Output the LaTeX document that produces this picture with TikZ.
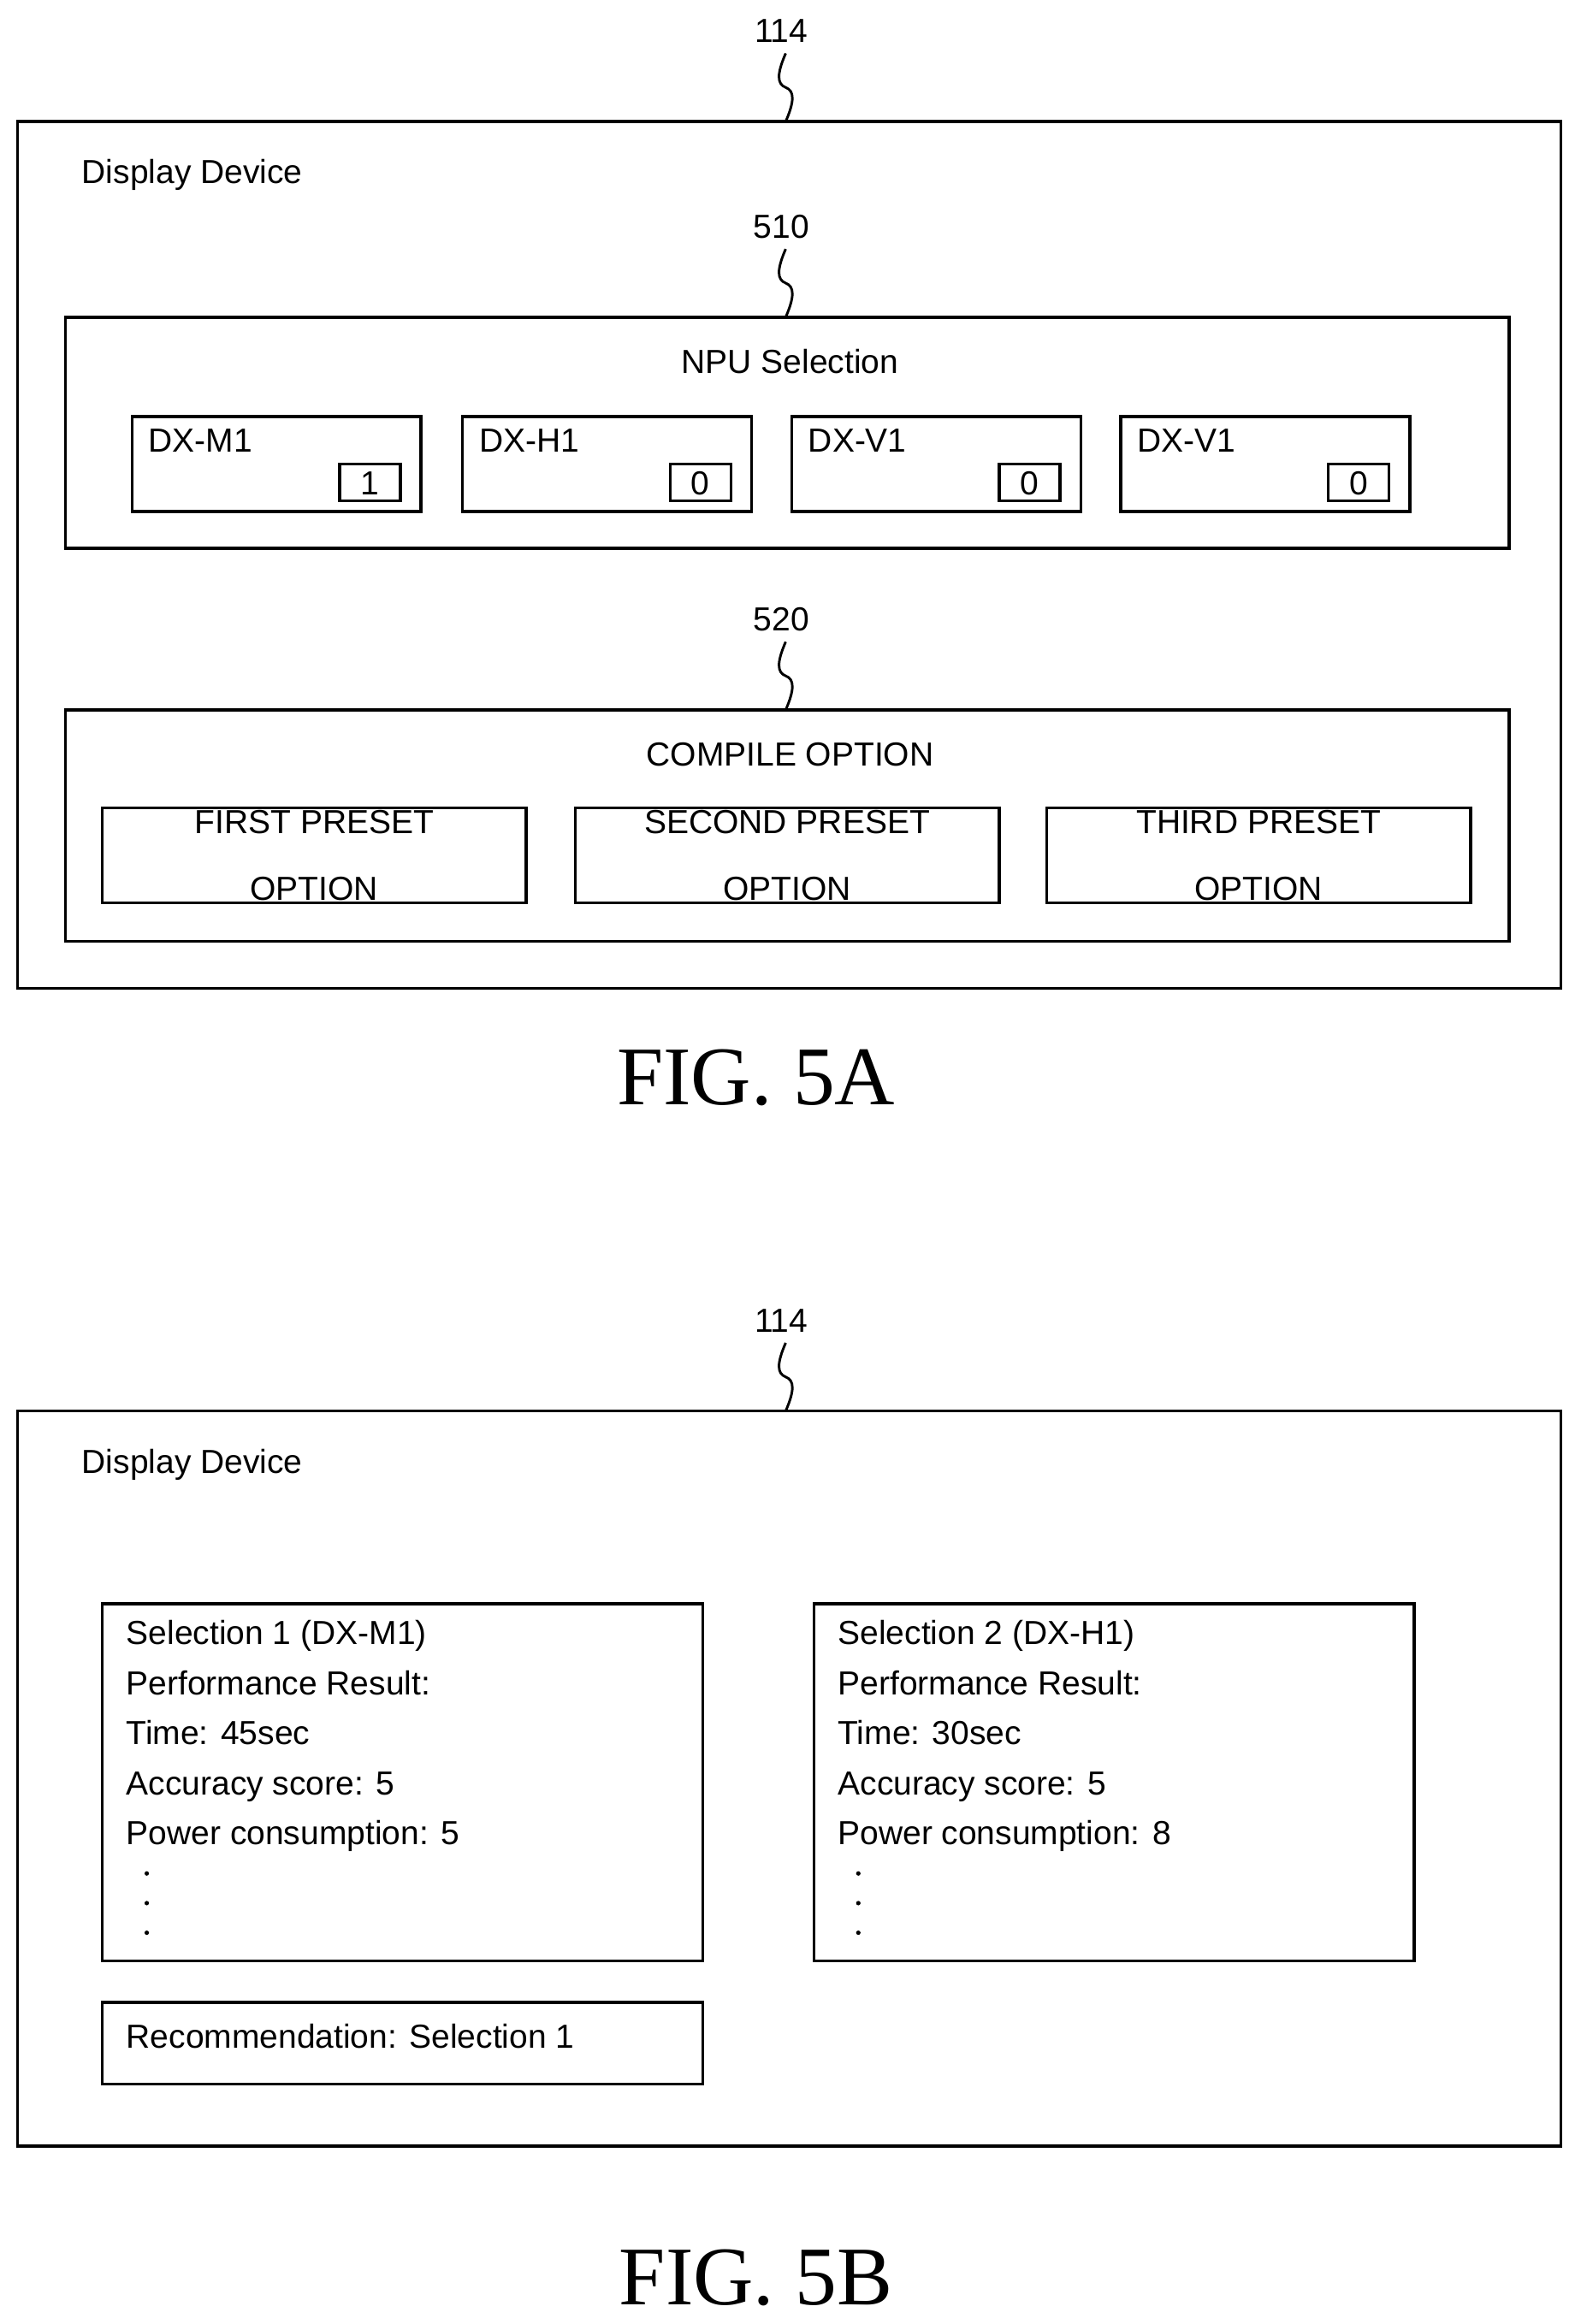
\documentclass[tikz,border=0pt]{standalone}
\usepackage{fontspec}
\setmainfont{Liberation Sans}
\newfontfamily\figfont{Liberation Serif}
\usetikzlibrary{positioning}
\tikzset{
  frame/.style={draw, thick, line width=1.4pt},
  lbl/.style={font=\fontsize{16}{19}\selectfont, inner sep=0pt},
  txt/.style={font=\fontsize{16}{24}\selectfont, inner sep=0pt, anchor=north west, align=left},
  figlbl/.style={font=\figfont\fontsize{40}{44}\selectfont, inner sep=0pt},
  squig/.style={line width=1.2pt}
}
\newcommand{\squiggle}[2]{% top y, bottom y at x=530
  \draw[squig] (530,#1) .. controls (524,{#1+(#2-#1)*0.3}) and (524,{#1+(#2-#1)*0.45}) .. (530,{(#1+#2)/2})
     .. controls (536,{#1+(#2-#1)*0.55}) and (536,{#1+(#2-#1)*0.7}) .. (530,#2);}
\begin{document}
\begin{tikzpicture}[x=0.025cm, y=-0.025cm]
  \useasboundingbox (0,0) rectangle (1066,1568);

  % Figura 5A
  \node[lbl] (refA) at (527,21) {114};
  \squiggle{36}{82}
  \draw[frame] (12,82) rectangle (1053,667);
  \node[lbl, anchor=west] (devA) at (55,118) {Display Device};

  % Seleccion de NPU
  \node[lbl] (ref510) at (527,153) {510};
  \squiggle{168}{214}
  \draw[frame] (44,214) rectangle (1018,370);
  \node[lbl] (npu) at (533,244) {NPU Selection};
  \foreach \x/\name/\v in {89/DX-M1/1, 312/DX-H1/0, 534/DX-V1/0, 756/DX-V1/0} {
      \draw[frame] (\x,281) rectangle (\x+195,345);
      \node[lbl, anchor=west] at (\x+11,297) {\name};
      \draw[frame] (\x+140,313) rectangle (\x+181,338);
      \node[lbl] at (\x+160.5,326) {\v};
  }

  % Opciones de compilacion
  \node[lbl] (ref520) at (527,418) {520};
  \squiggle{433}{479}
  \draw[frame] (44,479) rectangle (1018,635);
  \node[lbl] (comp) at (533,509) {COMPILE OPTION};
  \foreach \x/\name in {69/FIRST, 388/SECOND, 706/THIRD} {
      \draw[frame] (\x,545) rectangle (\x+286,609);
      \node[lbl, align=center, font=\fontsize{16}{32}\selectfont] at (\x+143,577) {\name\ PRESET\\OPTION};
  }

  \node[figlbl] (figA) at (510,727) {FIG. 5A};

  % Figura 5B
  \node[lbl] (refB) at (527,891) {114};
  \squiggle{906}{952}
  \draw[frame] (12,952) rectangle (1053,1448);
  \node[lbl, anchor=west] (devB) at (55,988) {Display Device};

  \draw[frame] (69,1082) rectangle (474,1323);
  \node[txt] (selA) at (85,1093) {Selection 1 (DX-M1)\\Performance Result:\\Time: 45sec\\Accuracy score: 5\\Power consumption: 5};
  \draw[frame] (549,1082) rectangle (954,1323);
  \node[txt] (selB) at (565,1093) {Selection 2 (DX-H1)\\Performance Result:\\Time: 30sec\\Accuracy score: 5\\Power consumption: 8};
  \foreach \x in {99,579} {
      \foreach \y in {1264,1284,1304} {
          \fill (\x,\y) circle (1.5);
      }
  }
  \draw[frame] (69,1351) rectangle (474,1406);
  \node[lbl, anchor=west] (rec) at (85,1374) {Recommendation: Selection 1};

  \node[figlbl] (figB) at (510,1537) {FIG. 5B};
\end{tikzpicture}
\end{document}
